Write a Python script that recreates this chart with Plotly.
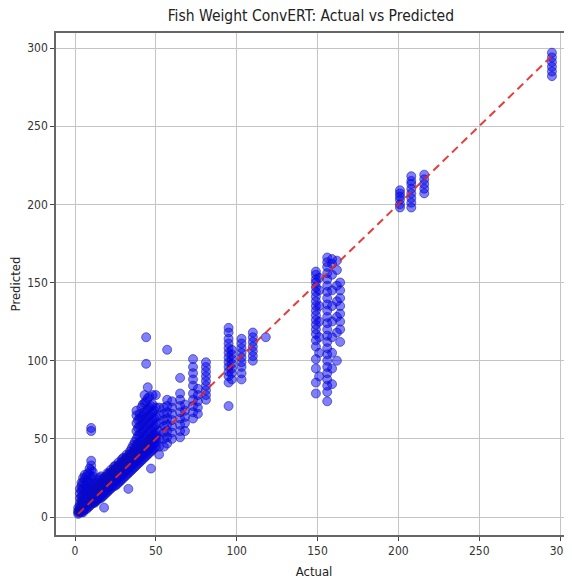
import plotly.graph_objects as go

# Predicted values grouped by actual fish weight
low_clusters = {
    2: [2, 3, 4, 6],
    3: [3, 4, 5, 7, 9, 12, 15, 18],
    4: [3, 4, 6, 8, 10, 13, 17, 20, 22],
    5: [4, 5, 7, 9, 11, 14, 18, 22, 25, 3],
    6: [5, 6, 8, 10, 13, 16, 20, 24, 27],
    7: [5, 7, 9, 12, 15, 19, 23, 26],
    8: [6, 8, 10, 13, 16, 20, 24, 28],
    9: [7, 9, 11, 14, 18, 22, 27, 31],
    10: [8, 10, 12, 16, 20, 25, 30, 33, 36, 57, 55],
    11: [9, 11, 13, 17, 21, 26, 29],
    12: [9, 12, 14, 18, 22, 16, 10],
    13: [10, 13, 15, 19, 22, 11, 17],
    14: [11, 14, 16, 20, 24, 12, 18],
    15: [12, 15, 17, 21, 25, 13, 19],
    16: [12, 16, 18, 14, 20, 22, 26],
    17: [13, 17, 19, 15, 21, 24],
    18: [6, 14, 18, 20, 16, 22, 25],
    19: [15, 19, 21, 17, 23, 26],
    20: [16, 20, 22, 18, 24, 26, 28],
    21: [17, 21, 23, 19, 25, 28],
    22: [18, 22, 24, 20, 26, 28, 30],
    23: [19, 23, 25, 21, 27, 29],
    24: [20, 24, 26, 22, 28, 30, 32],
    25: [20, 25, 27, 23, 29, 31, 33],
    26: [21, 26, 28, 24, 30, 32],
    27: [22, 27, 29, 25, 31, 33, 35],
    28: [23, 28, 30, 26, 32, 34],
    29: [24, 29, 31, 27, 33, 35, 37],
    30: [25, 30, 32, 28, 34, 36, 38],
    31: [26, 31, 33, 29, 35, 37],
    32: [27, 32, 34, 30, 36, 38, 40],
    33: [18, 28, 33, 35, 31, 37, 39],
    34: [29, 34, 36, 32, 38, 40, 42],
    35: [30, 35, 37, 33, 39, 41, 44],
    36: [31, 36, 38, 34, 40, 42, 46],
    37: [32, 37, 39, 35, 41, 44, 48],
    38: [33, 38, 40, 36, 42, 46, 50, 55, 60, 65, 68],
    39: [34, 39, 41, 37, 43, 47, 52, 57, 62],
    40: [35, 40, 42, 38, 44, 48, 53, 58, 63, 66],
    41: [36, 41, 43, 39, 45, 49, 54, 59, 64, 70],
    42: [37, 42, 44, 40, 46, 50, 55, 60, 65, 72],
    43: [38, 43, 45, 41, 47, 52, 57, 62, 67, 73, 78],
    44: [39, 44, 46, 42, 48, 53, 58, 63, 68, 74, 98, 115],
    45: [40, 45, 47, 43, 49, 54, 59, 64, 69, 76, 83],
    46: [41, 46, 48, 44, 50, 55, 60, 65, 70, 77],
    47: [31, 42, 47, 49, 45, 51, 56, 61, 66, 71],
    48: [43, 48, 50, 46, 52, 57, 62, 67, 72, 78],
    49: [44, 49, 51, 47, 53, 58, 63, 68],
    50: [45, 50, 52, 48, 54, 59, 64, 70, 78],
}

mid_clusters = {
    52: [40, 45, 50, 55, 60, 65, 70],
    55: [45, 50, 54, 58, 62, 66, 70],
    57: [47, 51, 55, 59, 63, 67, 71, 75, 107],
    60: [50, 54, 58, 62, 66, 70, 74],
    65: [51, 55, 59, 63, 67, 71, 75, 79, 89],
    68: [55, 60, 64, 68, 72],
    73: [63, 67, 71, 75, 79, 84, 88, 92, 96, 101],
    76: [66, 70, 74, 78, 82],
    81: [75, 78, 81, 84, 87, 90, 93, 96, 99],
    95: [71, 86, 90, 93, 96, 99, 102, 105, 108, 111, 114, 118, 121],
    97: [88, 92, 95, 98, 101, 104, 107],
    103: [88, 92, 96, 99, 102, 105, 108, 111, 114],
    110: [100, 103, 106, 109, 112, 115, 118],
    118: [115],
}

high_clusters = {
    149: [79, 86, 95, 101, 109, 113, 117, 120, 123, 126, 129, 132, 135,
          138, 141, 144, 147, 150, 152, 155, 157],
    151: [90, 105, 115, 125, 135, 145, 153],
    156: [74, 80, 84, 88, 92, 96, 100, 104, 108, 112, 116, 120, 124, 128,
          132, 136, 140, 144, 148, 152, 156, 160, 163, 166],
    159: [85, 95, 105, 115, 125, 135, 145, 155, 162, 165],
    162: [100, 118, 128, 138, 148, 158, 164],
    164: [112, 120, 125, 130, 135, 140, 145, 150],
    201: [198, 200, 203, 205, 207, 209],
    208: [198, 201, 204, 207, 210, 213, 215, 218],
    216: [207, 210, 213, 216, 219],
    295: [282, 285, 288, 291, 294, 297],
}

x_ticks = [0, 50, 100, 150, 200, 250, 300]
y_ticks = [0, 50, 100, 150, 200, 250, 300]

actual, predicted = [], []
for clusters in (low_clusters, mid_clusters, high_clusters):
    for a, preds in clusters.items():
        for p in preds:
            actual.append(a)
            predicted.append(p)

lo, hi = min(actual), max(actual)

FONT = "DejaVu Sans Condensed, Liberation Sans Narrow, Liberation Sans, sans-serif"

fig = go.Figure()
fig.add_trace(go.Scatter(
    x=actual, y=predicted, mode="markers",
    marker=dict(size=9, color="rgba(0,0,255,0.5)",
                line=dict(color="rgba(20,20,140,0.55)", width=1)),
    showlegend=False, hoverinfo="skip"))
fig.add_trace(go.Scatter(
    x=[lo, hi], y=[lo, hi], mode="lines",
    line=dict(color="rgba(225,40,40,0.9)", width=2, dash="8px,5px"),
    showlegend=False, hoverinfo="skip"))

axis_common = dict(
    showgrid=True, gridcolor="#c4c4c4", gridwidth=1,
    zeroline=False, showline=True, linecolor="#666666", linewidth=1.5,
    ticks="outside", ticklen=4, tickcolor="#444444", automargin=False,
    tickfont=dict(family=FONT, size=12, color="#333333"),
)

# The page body adds an 8px offset, so the figure is sized to fit inside it.
fig.update_layout(
    width=564, height=573,
    margin=dict(l=48, r=0, t=25, b=46),
    paper_bgcolor="white", plot_bgcolor="white",
    title=dict(text="Fish Weight ConvERT: Actual vs Predicted",
               x=0.537, xanchor="center", y=0.986, yanchor="middle",
               font=dict(family=FONT, size=15.5, color="#222222")),
    xaxis=dict(range=[-11.75, 307.4], tickvals=x_ticks, mirror=True,
               title=dict(text="Actual", standoff=10,
                          font=dict(family=FONT, size=13, color="#222222")),
               **axis_common),
    yaxis=dict(range=[-11.5, 309.6], tickvals=y_ticks,
               title=dict(text="Predicted", standoff=6,
                          font=dict(family=FONT, size=13, color="#222222")),
               **axis_common),
)

fig.write_html("out.html")
